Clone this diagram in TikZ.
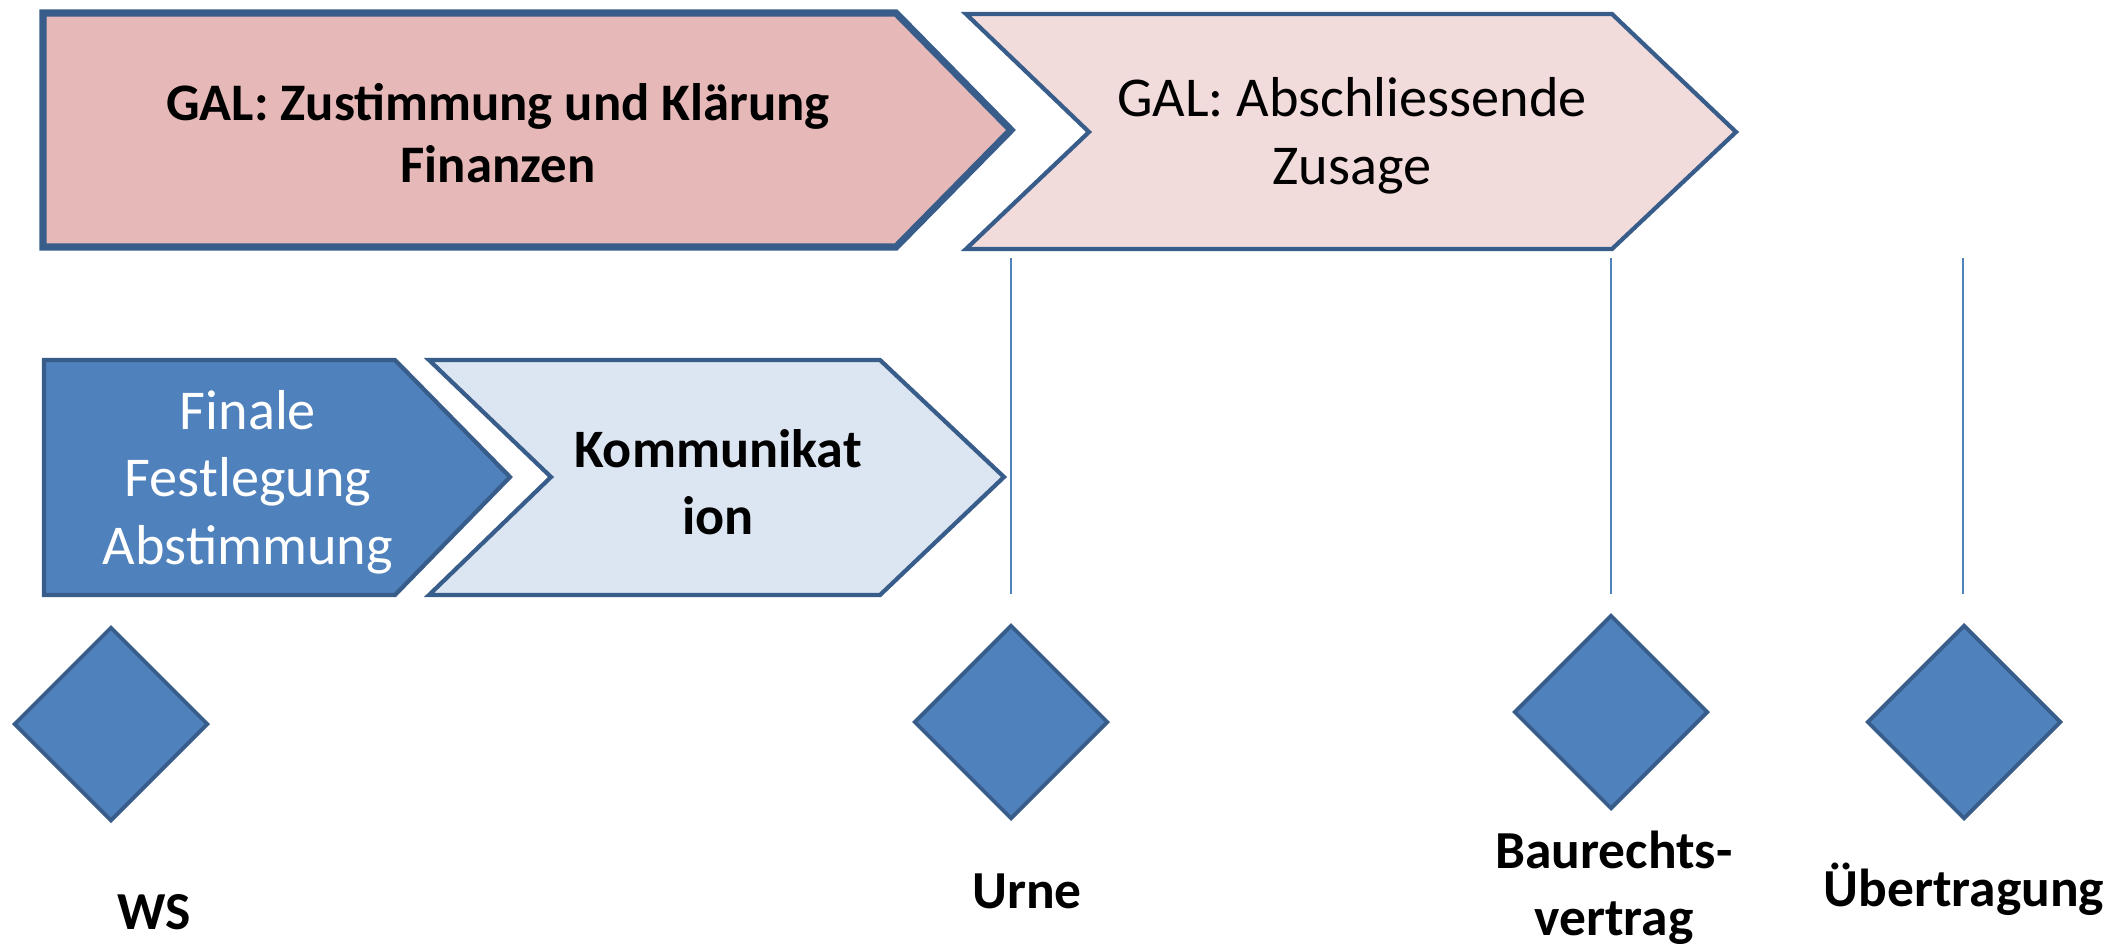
\documentclass[tikz,border=0pt]{standalone}
\usepackage{fontspec}
\setmainfont{Carlito}
\usetikzlibrary{shapes.geometric}

\definecolor{edgeblue}{HTML}{385D8A}
\definecolor{midblue}{HTML}{4F81BD}
\definecolor{rosedark}{HTML}{E6B8B7}
\definecolor{roselight}{HTML}{F2DCDB}
\definecolor{paleblue}{HTML}{DCE6F2}

\begin{document}
\begin{tikzpicture}[
  x=0.01cm, y=-0.01cm,
  phase/.style={draw=edgeblue, line width=1.2pt, line join=miter},
  phasetext/.style={align=center, inner sep=0pt},
  milestone/.style={diamond, draw=edgeblue, fill=midblue, line width=1.1pt, minimum size=1.94cm, inner sep=0pt},
  mtext/.style={align=center, inner sep=0pt, font=\bfseries\fontsize{15.2}{19}\selectfont},
  tick/.style={draw=midblue, line width=0.8pt}
]
\useasboundingbox (0,0) rectangle (2127,948);

% Phases, top row
\draw[phase, fill=rosedark, line width=2pt] (43,13) -- (896,13) -- (1011,130) -- (896,247) -- (43,247) -- cycle;
\draw[phase, fill=roselight] (966,14) -- (1612,14) -- (1736,132) -- (1612,249) -- (966,249) -- (1089,132) -- cycle;
\node[phasetext, font=\bfseries\fontsize{15}{17.5}\selectfont] (gal1) at (498,133) {GAL: Zustimmung und Klärung\\Finanzen};
\node[phasetext, font=\fontsize{16}{19.4}\selectfont] (gal2) at (1352,136) {GAL: Abschliessende\\Zusage};

% Phases, bottom row
\draw[phase, fill=midblue] (44,360) -- (395,360) -- (510,477) -- (395,595) -- (44,595) -- cycle;
\draw[phase, fill=paleblue] (429,360) -- (880,360) -- (1004,477) -- (880,595) -- (429,595) -- (551,477) -- cycle;
\node[phasetext, text=white, font=\fontsize{16}{19.2}\selectfont] (final) at (248,482) {Finale\\Festlegung\\Abstimmung};
\node[phasetext, font=\bfseries\fontsize{15.4}{19}\selectfont] (komm) at (718,482) {Kommunikat\\ion};

% Milestones
\node[milestone] (ws) at (111,724) {};
\node[milestone] (urne) at (1011,722) {};
\node[milestone] (bau) at (1611,712) {};
\node[milestone] (ueber) at (1964,722) {};

\node[mtext] (wslbl) at (154,912) {WS};
\node[mtext] (urnelbl) at (1027,891) {Urne};
\node[mtext] (baulbl) at (1614,888) {Baurechts-\\vertrag};
\node[mtext] (ueberlbl) at (1964,889) {Übertragung};

% Ticks
\coordinate (t1a) at (1011,258);
\coordinate (t1b) at (1011,594);
\coordinate (t2a) at (1611,258);
\coordinate (t2b) at (1611,594);
\coordinate (t3a) at (1963,258);
\coordinate (t3b) at (1963,594);
\draw[tick] (t1a) -- (t1b);
\draw[tick] (t2a) -- (t2b);
\draw[tick] (t3a) -- (t3b);

\end{tikzpicture}
\end{document}
